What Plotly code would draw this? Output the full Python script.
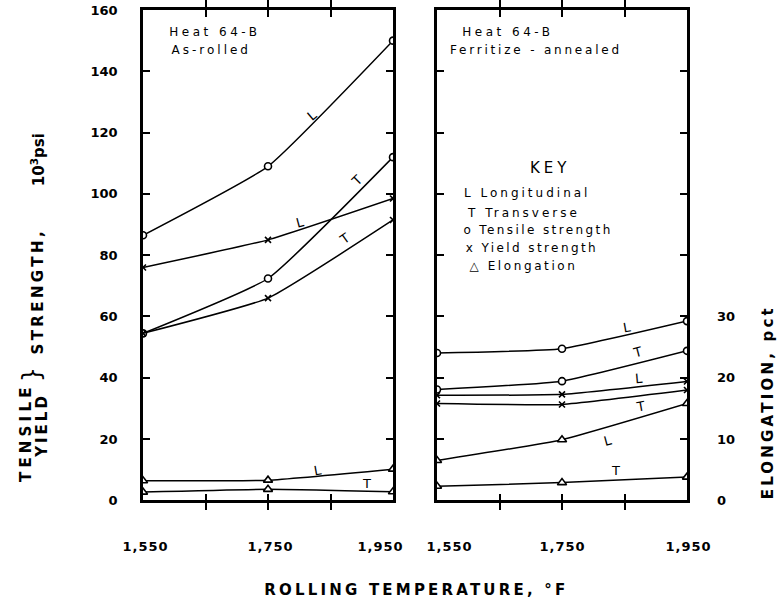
import json
import plotly.graph_objects as go

W, H = 780, 605

# ---------------- data ----------------
temps = [1550, 1750, 1950]

# Heat 64-B, as-rolled (strength in 10^3 psi, elongation in pct)
ar_tensile_L = [86.5, 109.0, 150.0]
ar_tensile_T = [54.5, 72.4, 112.0]
ar_yield_L = [76.0, 85.0, 98.5]
ar_yield_T = [54.5, 66.0, 91.5]
ar_elong_L = [3.2, 3.3, 5.1]
ar_elong_T = [1.35, 1.8, 1.4]

# Heat 64-B, ferritize-annealed
fa_tensile_L = [48.1, 49.5, 58.5]
fa_tensile_T = [36.2, 38.9, 48.8]
fa_yield_L = [34.3, 34.6, 38.8]
fa_yield_T = [31.6, 31.3, 36.0]
fa_elong_L = [6.5, 9.9, 15.8]
fa_elong_T = [2.3, 2.9, 3.8]

strength_ticks = [0, 20, 40, 60, 80, 100, 120, 140, 160]
elong_ticks = [0, 10, 20, 30]
temp_ticks = [1550, 1650, 1750, 1850, 1950]
temp_label_vals = [1550, 1750, 1950]
temp_label_text = ["1,550", "1,750", "1,950"]

FONT = "DejaVu Sans"
INK = "black"

# the photographed page comes out very slightly squeezed vertically
SY = 0.986


def px_x(p):
    return p / W


def px_y(p):
    return 1 - (p / SY) / H


fig = go.Figure()

tensile_marker = dict(symbol="circle", size=7, color="white", line=dict(color=INK, width=1.6))
yield_marker = dict(symbol="x-thin", size=6, color=INK, line=dict(color=INK, width=1.6))
elong_marker = dict(symbol="triangle-up", size=8, color="white", line=dict(color=INK, width=1.6))
line_style = dict(color=INK, width=1.5, shape="spline", smoothing=0.4)


def add(vals, marker, xa, ya):
    fig.add_trace(go.Scatter(x=temps, y=vals, mode="lines+markers", line=line_style,
                             marker=marker, xaxis=xa, yaxis=ya, showlegend=False,
                             hoverinfo="skip"))


# left panel
add(ar_tensile_L, tensile_marker, "x", "y")
add(ar_tensile_T, tensile_marker, "x", "y")
add(ar_yield_L, yield_marker, "x", "y")
add(ar_yield_T, yield_marker, "x", "y")
add(ar_elong_L, elong_marker, "x", "y2")
add(ar_elong_T, elong_marker, "x", "y2")
# right panel
add(fa_tensile_L, tensile_marker, "x2", "y3")
add(fa_tensile_T, tensile_marker, "x2", "y3")
add(fa_yield_L, yield_marker, "x2", "y3")
add(fa_yield_T, yield_marker, "x2", "y3")
add(fa_elong_L, elong_marker, "x2", "y4")
add(fa_elong_T, elong_marker, "x2", "y4")

ydom = [px_y(500), px_y(10)]
xdom1 = [px_x(143), px_x(393)]
xdom2 = [px_x(437), px_x(687)]

TICKFONT = dict(family=FONT, size=13, color=INK, weight="bold")
ax_common = dict(showline=True, linecolor=INK, linewidth=2.5, mirror="allticks",
                 ticks="inside", ticklen=7, tickwidth=2, tickcolor=INK,
                 showgrid=False, zeroline=False, automargin=False,
                 tickfont=TICKFONT)

fig.update_layout(
    width=W, height=H,
    margin=dict(l=0, r=0, t=0, b=0),
    paper_bgcolor="white", plot_bgcolor="white",
    xaxis=dict(domain=xdom1, range=[1550, 1950], anchor="y",
               tickvals=temp_ticks, showticklabels=False, **ax_common),
    yaxis=dict(domain=ydom, range=[0, 160], anchor="x", tickvals=strength_ticks,
               ticklabelstandoff=20, **ax_common),
    yaxis2=dict(domain=ydom, range=[0, 80], overlaying="y", anchor="x", visible=False),
    xaxis2=dict(domain=xdom2, range=[1550, 1950], anchor="y3",
                tickvals=temp_ticks, showticklabels=False, **ax_common),
    yaxis3=dict(domain=ydom, range=[0, 160], anchor="x2", tickvals=strength_ticks,
                showticklabels=False, **ax_common),
    yaxis4=dict(domain=ydom, range=[0, 80], overlaying="y3", anchor="x2", side="right",
                tickvals=elong_ticks, ticks="", showline=False, showgrid=False,
                zeroline=False, ticklabelstandoff=29, tickfont=TICKFONT),
)

ann = []


def data_text(text, x, y, xref, yref, size=12, angle=0, xanchor="center", bold=False, **kw):
    f = dict(family=FONT, size=size, color=INK)
    if bold:
        f["weight"] = "bold"
    ann.append(dict(text=text, x=x, y=y, xref=xref, yref=yref, showarrow=False,
                    textangle=angle, xanchor=xanchor, yanchor="middle", font=f, **kw))


def paper_text(text, px, py, size=15, angle=0, bold=True):
    f = dict(family=FONT, size=size, color=INK)
    if bold:
        f["weight"] = "bold"
    ann.append(dict(text=text, x=px_x(px), y=px_y(py), xref="paper", yref="paper",
                    showarrow=False, textangle=angle, xanchor="center", yanchor="middle",
                    font=f))


# x tick labels (small shifts where the two panels meet)
for (xa, ya), shifts in [(("x", "y"), [2, 2, -13]), (("x2", "y3"), [12, 0, 1])]:
    for v, t, s in zip(temp_label_vals, temp_label_text, shifts):
        data_text(t, v, 0, xa, ya, size=13, bold=True, yshift=-46, xshift=s)

# curve labels, left panel
for t, x, y, a in [("L", 1820, 125.7, -40), ("T", 1892, 104.5, -45),
                   ("L", 1801, 90.8, -15), ("T", 1873, 85.5, -35),
                   ("L", 1830, 9.8, -10), ("T", 1908, 5.5, 0)]:
    data_text(t, x, y, "x", "y", size=13, angle=a)
# curve labels, right panel
for t, x, y, a in [("L", 1854, 56.5, -10), ("T", 1870, 48.3, -15),
                   ("L", 1873, 39.8, -5), ("T", 1876, 30.7, -10),
                   ("L", 1824, 19.6, -15), ("T", 1835, 9.8, 0)]:
    data_text(t, x, y, "x2", "y3", size=13, angle=a)

# panel captions
data_text("Heat 64-B", 1614, 152.8, "x", "y", xanchor="left")
data_text("As-rolled", 1614, 147.0, "x", "y", xanchor="left")
data_text("Heat 64-B", 1612, 152.8, "x2", "y3", xanchor="left")
data_text("Ferritize - annealed", 1612, 147.0, "x2", "y3", xanchor="left")

# key
data_text("KEY", 1731, 108.4, "x2", "y3", size=15)
for txt, y in [("L Longitudinal", 100.2), ("T Transverse", 93.7),
               ("o Tensile strength", 88.2), ("x Yield strength", 82.3),
               ("△ Elongation", 76.4)]:
    data_text(txt, 1624, y, "x2", "y3", xanchor="left")

# axis titles
paper_text("ROLLING TEMPERATURE, °F", 416, 590)
paper_text("ELONGATION, pct", 768, 402, angle=-90)
paper_text("TENSILE", 26, 433, size=15, angle=-90)
paper_text("YIELD", 42, 425, size=15, angle=-90)
paper_text("}", 32, 375, size=24, angle=-90, bold=False)
paper_text("STRENGTH,", 38, 291, angle=-90)
paper_text("10<sup>3</sup>psi", 38, 160, angle=-90)

fig.update_layout(annotations=ann)

# letter spacing (the reference lettering is widely spaced)
spacing = {
    "ROLLING TEMPERATURE, °F": 3.2,
    "ELONGATION, pct": 3.2,
    "TENSILE": 4.2,
    "YIELD": 3.0,
    "STRENGTH,": 3.4,
    "103psi": 0.6,
    "Heat 64-B": 3.5,
    "As-rolled": 3.0,
    "Ferritize - annealed": 2.8,
    "KEY": 4.0,
    "L Longitudinal": 3.0,
    "T Transverse": 3.0,
    "o Tensile strength": 2.4,
    "x Yield strength": 2.4,
    "△ Elongation": 2.6,
    "1,550": 1.0,
    "1,750": 1.0,
    "1,950": 1.0,
}

post = """
document.body.style.margin = '0px';
var gd = document.getElementById('{plot_id}');
var SP = %s;
function fixSpacing(){
  var els = gd.querySelectorAll('text.annotation-text');
  for (var i = 0; i < els.length; i++) {
    var s = SP[els[i].textContent];
    if (s !== undefined) { els[i].style.letterSpacing = s + 'px'; }
  }
}
fixSpacing();
if (gd.on) { gd.on('plotly_afterplot', fixSpacing); }
""" % json.dumps(spacing, ensure_ascii=False)

fig.write_html("out.html", post_script=post, config={"displayModeBar": False})
